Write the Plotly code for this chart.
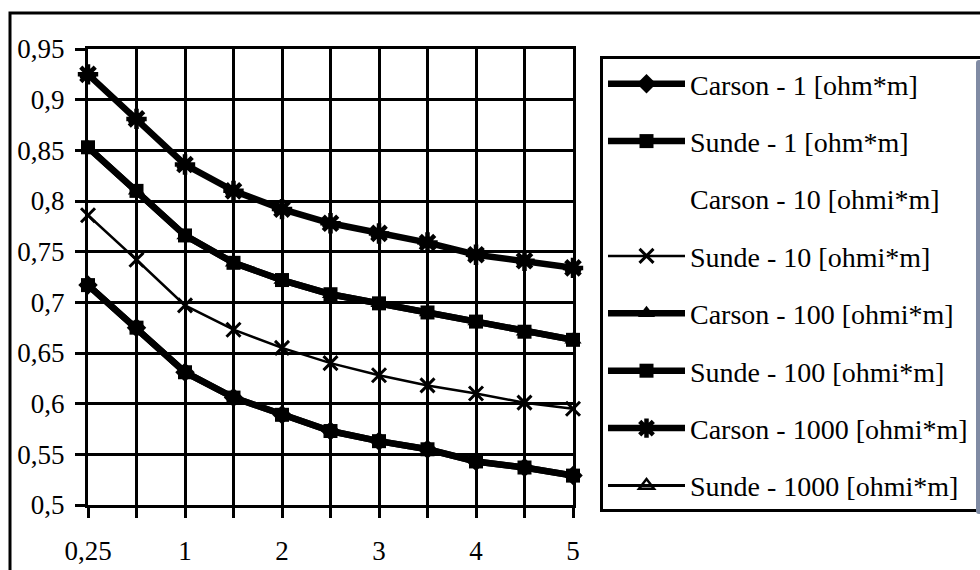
import plotly.graph_objects as go

# x categories (only every other one is labelled)
categories = ["0,25", "0,5", "1", "1,5", "2", "2,5", "3", "3,5", "4", "4,5", "5"]
tick_labels = ["0,25", "", "1", "", "2", "", "3", "", "4", "", "5"]

carson_1 = [0.717, 0.675, 0.631, 0.606, 0.589, 0.573, 0.563, 0.555, 0.543, 0.537, 0.529]
sunde_1 = [0.717, 0.675, 0.631, 0.606, 0.589, 0.573, 0.563, 0.555, 0.543, 0.537, 0.529]
carson_10 = [0.786, 0.742, 0.697, 0.673, 0.655, 0.640, 0.628, 0.618, 0.610, 0.601, 0.595]
sunde_10 = [0.786, 0.742, 0.697, 0.673, 0.655, 0.640, 0.628, 0.618, 0.610, 0.601, 0.595]
carson_100 = [0.853, 0.810, 0.766, 0.739, 0.722, 0.708, 0.699, 0.690, 0.681, 0.671, 0.663]
sunde_100 = [0.853, 0.810, 0.766, 0.739, 0.722, 0.708, 0.699, 0.690, 0.681, 0.671, 0.663]
carson_1000 = [0.925, 0.881, 0.836, 0.810, 0.792, 0.778, 0.768, 0.759, 0.747, 0.741, 0.734]
sunde_1000 = [0.925, 0.881, 0.836, 0.810, 0.792, 0.778, 0.768, 0.759, 0.747, 0.741, 0.734]

names = [
    "Carson - 1 [ohm*m]",
    "Sunde - 1 [ohm*m]",
    "Carson - 10 [ohmi*m]",
    "Sunde - 10 [ohmi*m]",
    "Carson - 100 [ohmi*m]",
    "Sunde - 100 [ohmi*m]",
    "Carson - 1000 [ohmi*m]",
    "Sunde - 1000 [ohmi*m]",
]
series = [carson_1, sunde_1, carson_10, sunde_10, carson_100, sunde_100, carson_1000, sunde_1000]

styles = [
    dict(mode="lines+markers", line=dict(color="black", width=6.5),
         marker=dict(symbol="diamond", size=15, color="black")),
    dict(mode="lines+markers", line=dict(color="black", width=6.5),
         marker=dict(symbol="square", size=14, color="black")),
    dict(mode="lines", line=dict(color="rgba(0,0,0,0)", width=2)),
    dict(mode="lines+markers", line=dict(color="black", width=2.5),
         marker=dict(symbol="x-thin-open", size=14, color="black", line=dict(color="black", width=3))),
    dict(mode="lines+markers", line=dict(color="black", width=6.5),
         marker=dict(symbol="triangle-up", size=15, color="black")),
    dict(mode="lines+markers", line=dict(color="black", width=6.5),
         marker=dict(symbol="square", size=14, color="black")),
    dict(mode="lines+markers", line=dict(color="black", width=6.5),
         marker=dict(symbol="asterisk-open", size=17, color="black", line=dict(color="black", width=4.5))),
    dict(mode="lines+markers", line=dict(color="black", width=3),
         marker=dict(symbol="triangle-up-open", size=13, color="black", line=dict(color="black", width=2.5))),
]

fig = go.Figure()
for i, (nm, ys, st) in enumerate(zip(names, series, styles)):
    fig.add_trace(go.Scatter(x=categories, y=ys, name=nm, legendgroup=f"g{i}",
                             cliponaxis=False, **st))

FONT = "Liberation Serif"

fig.update_layout(
    width=980, height=570,
    margin=dict(l=88, r=407, t=49, b=65, autoexpand=False),
    paper_bgcolor="white", plot_bgcolor="white",
    separators=",.",
    font=dict(family=FONT, size=27, color="black"),
    showlegend=True,
    legend=dict(
        x=(600 - 88) / 485, y=(505 - 56) / 456, xanchor="left", yanchor="top",
        bordercolor="black", borderwidth=3, bgcolor="white",
        font=dict(family=FONT, size=28, color="black"),
        tracegroupgap=18, itemwidth=77, traceorder="grouped",
    ),
    xaxis=dict(
        type="category", categoryorder="array", categoryarray=categories,
        range=[0, len(categories) - 1],
        tickmode="array", tickvals=categories, ticktext=tick_labels,
        showgrid=True, gridcolor="black", gridwidth=3,
        showline=True, linecolor="black", linewidth=3, mirror=True,
        ticks="outside", ticklen=10, tickwidth=3, tickcolor="black",
        ticklabelstandoff=10,
        tickfont=dict(family=FONT, size=27, color="black"),
        zeroline=False,
    ),
    yaxis=dict(
        range=[0.5, 0.95], tick0=0.5, dtick=0.05,
        showgrid=True, gridcolor="black", gridwidth=3,
        showline=True, linecolor="black", linewidth=3, mirror=True,
        ticks="outside", ticklen=10, tickwidth=3, tickcolor="black",
        ticklabelstandoff=5,
        tickfont=dict(family=FONT, size=27, color="black"),
        zeroline=False,
    ),
    shapes=[
        dict(type="rect", xref="paper", yref="paper",
             x0=(10 - 88) / 485, x1=(990 - 88) / 485,
             y0=(505 - 580) / 456, y1=(505 - 13) / 456,
             line=dict(color="black", width=3), fillcolor="rgba(0,0,0,0)", layer="below"),
    ],
)

fig.write_html("out.html")
